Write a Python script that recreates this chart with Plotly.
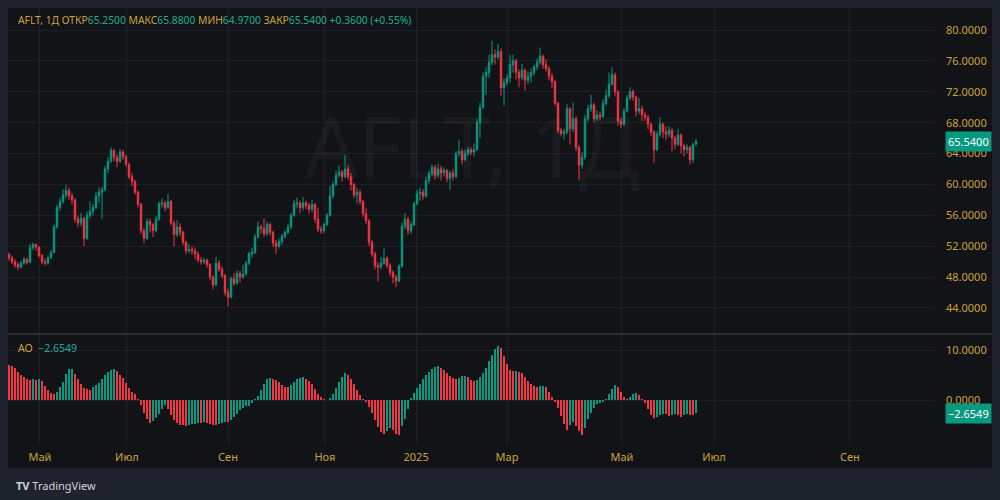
import plotly.graph_objects as go

# ---------------- data ----------------
OPEN = [
    50.9, 50.5, 50.0, 49.6, 49.3, 49.8, 50.3, 49.9, 51.8, 52.2,
    51.9, 50.8, 50.0, 49.8, 50.5, 51.2, 54.5, 57.0, 57.8, 58.6,
    59.2, 58.5, 58.0, 55.5, 55.0, 55.6, 53.0, 56.0, 56.5, 57.0,
    58.5, 59.0, 59.3, 62.0, 63.0, 64.4, 63.5, 63.0, 64.2, 63.6,
    62.6, 61.0, 60.4, 59.0, 57.4, 54.0, 53.0, 55.2, 54.8, 54.0,
    55.5, 57.5, 57.6, 57.0, 57.8, 55.0, 53.5, 54.5, 53.8, 52.5,
    51.4, 51.6, 51.4, 51.0, 50.2, 50.0, 50.2, 49.6, 48.0, 47.0,
    49.8, 49.0, 48.2, 46.0, 45.4, 47.8, 47.2, 48.5, 48.0, 48.4,
    49.8, 51.0, 51.2, 53.2, 54.5, 54.3, 53.6, 54.8, 53.8, 52.4,
    52.0, 52.6, 53.3, 53.8, 54.5, 56.0, 57.5, 57.6, 57.0, 57.6,
    57.3, 56.8, 57.4, 55.5, 54.2, 54.0, 54.8, 56.0, 58.5, 60.0,
    61.2, 61.6, 61.0, 62.0, 61.0, 60.0, 58.6, 59.0, 57.8, 56.2,
    55.3, 52.5, 51.0, 49.5, 49.3, 49.8, 50.4, 49.5, 48.6, 48.0,
    47.5, 49.4, 54.6, 55.5, 54.0, 54.8, 57.5, 58.8, 59.0, 58.5,
    60.5, 61.4, 62.2, 61.2, 62.0, 61.5, 61.8, 60.8, 61.5, 61.0,
    64.0, 64.3, 63.2, 64.0, 64.5, 64.2, 64.5, 68.0, 70.0, 74.0,
    74.5, 75.8, 76.8, 76.5, 77.2, 72.5, 73.2, 73.8, 75.5, 76.0,
    74.5, 73.8, 74.8, 73.5, 74.0, 74.5, 75.2, 75.8, 76.6, 75.5,
    75.0, 74.0, 73.3, 70.5, 67.0, 66.6, 66.8, 69.8, 67.2, 68.5,
    64.8, 62.5, 63.5, 68.5, 69.8, 70.3, 68.5, 69.0, 68.8, 70.5,
    71.5, 73.0, 74.2, 72.0, 68.2, 67.8, 69.5, 71.2, 72.0, 71.3,
    69.5, 69.8, 69.0, 68.7, 67.8, 66.8, 64.5, 66.5, 67.8, 66.8,
    66.5, 67.0, 66.0, 65.2, 66.4, 65.0, 64.5, 64.8, 63.2, 65.25,
]
HIGH = [
    51.2, 50.8, 50.3, 49.9, 50.1, 50.6, 50.5, 52.3, 52.5, 52.4,
    52.0, 51.0, 50.4, 50.8, 51.5, 54.8, 57.4, 58.3, 59.4, 59.9,
    59.6, 58.9, 58.2, 56.0, 56.3, 55.8, 56.5, 57.8, 57.5, 59.0,
    59.6, 59.7, 62.4, 63.6, 64.8, 64.6, 63.9, 64.6, 64.5, 63.8,
    62.8, 61.5, 60.6, 59.2, 57.6, 54.3, 55.6, 55.6, 55.0, 55.9,
    57.8, 58.2, 57.9, 58.8, 58.0, 55.3, 55.4, 55.0, 54.0, 52.7,
    52.3, 52.0, 51.8, 51.3, 50.6, 50.5, 50.4, 49.8, 48.2, 50.6,
    50.2, 49.4, 48.4, 46.5, 48.1, 48.5, 48.9, 48.8, 49.6, 50.1,
    51.3, 51.8, 53.6, 55.2, 54.8, 55.6, 55.2, 55.0, 54.0, 52.8,
    53.0, 53.6, 54.1, 54.9, 56.3, 58.0, 58.3, 57.9, 58.4, 57.9,
    57.6, 58.0, 57.6, 57.0, 54.6, 55.1, 56.3, 59.8, 60.4, 61.8,
    62.4, 61.9, 63.8, 62.5, 61.5, 60.2, 59.6, 59.3, 58.0, 56.9,
    55.5, 52.8, 51.3, 49.9, 50.6, 51.7, 50.7, 49.8, 48.9, 48.3,
    49.7, 55.1, 56.3, 55.8, 55.2, 57.8, 59.3, 59.6, 59.4, 61.0,
    61.8, 62.6, 62.5, 62.7, 62.4, 62.2, 62.0, 61.8, 62.0, 64.3,
    65.8, 64.6, 64.5, 64.9, 64.8, 65.3, 68.5, 70.6, 74.5, 75.2,
    76.8, 78.6, 77.5, 78.2, 77.6, 73.8, 74.3, 76.8, 76.8, 76.3,
    74.9, 75.6, 75.0, 74.6, 75.0, 75.5, 76.3, 77.7, 76.8, 76.2,
    75.3, 74.4, 73.5, 70.7, 67.3, 67.2, 70.4, 70.0, 70.6, 68.8,
    65.1, 64.2, 69.0, 70.3, 71.6, 70.6, 69.6, 69.4, 71.0, 72.3,
    74.5, 75.2, 74.5, 72.2, 68.6, 69.9, 71.6, 72.6, 72.3, 71.5,
    71.2, 70.2, 69.4, 69.0, 68.0, 67.0, 66.9, 68.7, 68.0, 67.5,
    67.6, 67.3, 66.3, 67.2, 66.6, 65.3, 65.2, 65.0, 65.4, 65.88,
]
LOW = [
    50.1, 49.7, 49.2, 48.9, 49.1, 49.6, 49.6, 49.8, 51.5, 51.4,
    50.5, 49.7, 49.5, 49.6, 50.3, 51.1, 54.3, 56.6, 57.5, 58.2,
    58.0, 57.4, 55.1, 54.5, 54.6, 52.0, 52.8, 55.6, 56.0, 56.8,
    57.6, 55.5, 59.1, 61.5, 62.8, 63.0, 62.2, 62.8, 63.2, 62.3,
    60.7, 59.8, 58.7, 57.0, 53.6, 52.4, 52.8, 53.8, 53.2, 53.8,
    55.3, 57.0, 56.5, 56.8, 54.7, 52.0, 53.2, 53.3, 52.1, 51.0,
    51.1, 50.9, 50.3, 49.9, 49.6, 49.7, 49.2, 47.6, 46.4, 46.8,
    48.7, 47.9, 45.6, 44.2, 45.2, 46.9, 47.0, 47.3, 47.8, 48.2,
    49.5, 50.5, 51.0, 53.0, 53.6, 53.2, 53.3, 53.4, 51.9, 51.0,
    51.7, 52.2, 53.0, 53.6, 54.2, 55.8, 56.9, 56.3, 56.6, 56.8,
    56.2, 56.4, 55.0, 53.8, 53.6, 53.7, 54.6, 55.8, 58.2, 59.8,
    60.9, 60.4, 60.8, 60.6, 59.2, 58.2, 57.5, 57.4, 55.8, 54.9,
    52.0, 50.6, 49.0, 47.4, 49.0, 49.6, 49.2, 48.2, 47.2, 46.7,
    47.3, 49.2, 54.2, 53.5, 53.6, 54.6, 57.3, 57.9, 58.0, 58.3,
    60.1, 61.1, 60.6, 60.9, 60.5, 61.0, 60.3, 59.3, 60.5, 60.8,
    63.6, 62.6, 63.0, 63.7, 63.8, 63.6, 64.3, 66.0, 69.8, 71.6,
    73.8, 75.4, 75.5, 76.2, 71.5, 70.2, 72.8, 73.2, 74.5, 73.6,
    72.6, 73.5, 72.2, 73.0, 73.2, 74.1, 74.8, 75.5, 75.0, 74.6,
    73.5, 72.5, 70.2, 66.6, 66.2, 65.8, 66.5, 65.2, 66.8, 64.3,
    60.6, 62.0, 63.2, 68.1, 69.4, 68.0, 68.2, 68.3, 68.6, 70.2,
    71.2, 72.8, 71.4, 67.6, 67.3, 67.6, 69.3, 70.9, 70.8, 68.8,
    69.1, 68.2, 68.2, 67.2, 66.3, 62.8, 64.3, 66.2, 66.0, 65.8,
    66.1, 64.3, 64.6, 65.0, 64.0, 63.6, 64.0, 62.6, 62.8, 64.97,
]
CLOSE = [
    50.5, 50.0, 49.6, 49.3, 49.8, 50.3, 49.9, 51.8, 52.2, 51.9,
    50.8, 50.0, 49.8, 50.5, 51.2, 54.5, 57.0, 57.8, 58.6, 59.2,
    58.5, 58.0, 55.5, 55.0, 55.6, 53.0, 56.0, 56.5, 57.0, 58.5,
    59.0, 59.3, 62.0, 63.0, 64.4, 63.5, 63.0, 64.2, 63.6, 62.6,
    61.0, 60.4, 59.0, 57.4, 54.0, 53.0, 55.2, 54.8, 54.0, 55.5,
    57.5, 57.6, 57.0, 57.8, 55.0, 53.5, 54.5, 53.8, 52.5, 51.4,
    51.6, 51.4, 51.0, 50.2, 50.0, 50.2, 49.6, 48.0, 47.0, 49.8,
    49.0, 48.2, 46.0, 45.4, 47.8, 47.2, 48.5, 48.0, 48.4, 49.8,
    51.0, 51.2, 53.2, 54.5, 54.3, 53.6, 54.8, 53.8, 52.4, 52.0,
    52.6, 53.3, 53.8, 54.5, 56.0, 57.5, 57.6, 57.0, 57.6, 57.3,
    56.8, 57.4, 55.5, 54.2, 54.0, 54.8, 56.0, 58.5, 60.0, 61.2,
    61.6, 61.0, 62.0, 61.0, 60.0, 58.6, 59.0, 57.8, 56.2, 55.3,
    52.5, 51.0, 49.5, 49.3, 49.8, 50.4, 49.5, 48.6, 48.0, 47.5,
    49.4, 54.6, 55.5, 54.0, 54.8, 57.5, 58.8, 59.0, 58.5, 60.5,
    61.4, 62.2, 61.2, 62.0, 61.5, 61.8, 60.8, 61.5, 61.0, 64.0,
    64.3, 63.2, 64.0, 64.5, 64.2, 64.5, 68.0, 70.0, 74.0, 74.5,
    75.8, 76.8, 76.5, 77.2, 72.5, 73.2, 73.8, 75.5, 76.0, 74.5,
    73.8, 74.8, 73.5, 74.0, 74.5, 75.2, 75.8, 76.6, 75.5, 75.0,
    74.0, 73.3, 70.5, 67.0, 66.6, 66.8, 69.8, 67.2, 68.5, 64.8,
    62.5, 63.5, 68.5, 69.8, 70.3, 68.5, 69.0, 68.8, 70.5, 71.5,
    73.0, 74.2, 72.0, 68.2, 67.8, 69.5, 71.2, 72.0, 71.3, 69.5,
    69.8, 69.0, 68.7, 67.8, 66.8, 64.5, 66.5, 67.8, 66.8, 66.5,
    67.0, 66.0, 65.2, 66.4, 65.0, 64.5, 64.8, 63.2, 65.18, 65.54,
]
AO = [
    7.0, 6.9, 6.5, 5.6, 5.0, 4.6, 4.3, 4.1, 4.2, 4.0,
    4.2, 3.8, 2.8, 2.0, 1.4, 1.2, 1.6, 2.6, 3.7, 5.2,
    6.2, 6.3, 5.3, 4.2, 3.3, 2.5, 2.3, 2.0, 2.6, 3.1,
    3.5, 4.3, 5.0, 5.7, 6.1, 6.2, 5.8, 5.1, 4.4, 3.5,
    2.5, 1.7, 1.2, 0.3, -1.0, -2.5, -3.8, -4.5, -4.2, -3.5,
    -2.7, -1.8, -1.0, -1.7, -3.0, -4.0, -4.6, -4.9, -5.0, -5.1,
    -5.0, -4.8, -4.7, -4.5, -4.6, -4.4, -4.6, -4.8, -4.9, -5.0,
    -4.8, -4.6, -4.3, -4.4, -4.0, -3.4, -2.8, -2.0, -1.5, -1.2,
    -1.1, -0.6, 0.2, 0.8, 2.0, 3.2, 4.2, 4.4, 4.2, 4.0,
    3.6, 3.0, 2.7, 2.6, 3.0, 3.6, 4.2, 4.5, 4.6, 4.3,
    3.8, 3.2, 2.3, 1.2, 0.6, 0.2, 0.1, 0.4, 1.3, 2.5,
    3.6, 4.6, 5.4, 5.1, 4.3, 3.2, 2.0, 1.0, 0.3, -0.3,
    -1.3, -2.6, -4.0, -5.3, -6.3, -6.7, -6.2, -5.6, -6.0, -6.7,
    -6.9, -5.2, -3.8, -1.8, 0.5, 1.5, 2.4, 3.3, 4.3, 5.0,
    5.6, 6.2, 6.6, 6.9, 6.5, 6.0, 5.4, 4.8, 4.4, 4.2,
    4.5, 4.8, 4.9, 4.6, 4.1, 3.9, 4.0, 4.6, 5.4, 6.5,
    7.8, 9.0, 10.2, 10.9, 10.4, 8.8, 7.2, 6.0, 5.8, 5.9,
    5.6, 5.4, 4.7, 3.9, 3.2, 2.8, 2.6, 2.9, 2.9, 2.6,
    1.6, 0.6, -0.3, -1.5, -3.2, -4.8, -6.0, -5.0, -4.3, -5.2,
    -6.2, -6.9, -5.5, -3.8, -2.5, -1.5, -0.8, -0.6, -0.4, 0.3,
    1.2, 2.2, 3.0, 2.6, 1.6, 0.6, 0.2, 0.6, 1.2, 1.5,
    1.0, 0.3, -0.6, -1.8, -3.0, -3.6, -3.4, -3.0, -2.7, -2.8,
    -3.2, -3.0, -2.8, -3.0, -3.3, -3.0, -2.8, -2.9, -3.0, -2.6549,
]
MONTH_LABELS = ["Май", "Июл", "Сен", "Ноя", "2025", "Мар", "Май", "Июл", "Сен"]
MONTH_START_BAR = [10.3, 39.3, 73.0, 105.3, 135.7, 166.0, 204.3, 235.0, 280.3]
PRICE_TICKS = [44, 48, 52, 56, 60, 64, 68, 72, 76, 80]
AO_TICKS = [0, 10]
SYMBOL = "AFLT, 1Д"
LAST_CHANGE = 0.36
LAST_CHANGE_PCT = 0.55

# ---------------- styling ----------------
UP = "#089981"
DOWN = "#f23645"
GOLD = "#c9a23f"
TEAL = "#22ab94"
BG = "#121316"
FRAME = "#1e222d"
GRID = "#1d2026"
FONT = "Noto Sans"

BARS = list(range(len(CLOSE)))
ao_colors = []
for i, v in enumerate(AO):
    prev = AO[i - 1] if i > 0 else AO[0] + 0.1
    ao_colors.append(UP if v >= prev else DOWN)

fig = go.Figure()

# watermark (drawn first so that it stays under the candles)
fig.add_trace(go.Scatter(
    x=[154.3], y=[63.6], mode="text", text=[SYMBOL],
    textfont=dict(family=FONT, size=84, color="rgba(255,255,255,0.035)"),
    textposition="middle center", hoverinfo="skip", showlegend=False,
    xaxis="x", yaxis="y",
))

fig.add_trace(go.Candlestick(
    x=BARS, open=OPEN, high=HIGH, low=LOW, close=CLOSE,
    increasing=dict(line=dict(color=UP, width=1), fillcolor=UP),
    decreasing=dict(line=dict(color=DOWN, width=1), fillcolor=DOWN),
    whiskerwidth=0, showlegend=False, hoverinfo="skip",
    xaxis="x", yaxis="y",
))

fig.add_trace(go.Bar(
    x=BARS, y=AO, marker=dict(color=ao_colors, line=dict(width=0)),
    width=0.5, showlegend=False, hoverinfo="skip",
    xaxis="x2", yaxis="y2",
))

XR = [-1 / 3, 309 - 1 / 3]
axis_common = dict(showline=False, zeroline=False, gridcolor=GRID, gridwidth=1)

fig.update_layout(
    width=1000, height=500,
    margin=dict(l=8, r=65, t=8, b=57),
    paper_bgcolor=FRAME, plot_bgcolor=BG,
    hovermode=False, bargap=0, dragmode=False,
    font=dict(family=FONT, size=11, color=GOLD),
    xaxis=dict(domain=[0, 1], anchor="y", range=XR, tickvals=MONTH_START_BAR,
               showticklabels=False, ticks="", rangeslider=dict(visible=False),
               **axis_common),
    xaxis2=dict(domain=[0, 1], anchor="y2", range=XR, matches="x",
                tickvals=MONTH_START_BAR, ticktext=MONTH_LABELS,
                tickfont=dict(family=FONT, size=11, color=GOLD),
                ticks="", ticklabelstandoff=6, **axis_common),
    yaxis=dict(domain=[0.2529, 1], anchor="x", side="right", range=[40.76, 82.85],
               tickvals=PRICE_TICKS, tickformat=".4f", ticks="",
               ticklabelstandoff=10,
               tickfont=dict(family=FONT, size=11, color=GOLD), **axis_common),
    yaxis2=dict(domain=[0, 0.248], anchor="x2", side="right", range=[-8.6, 13],
                tickvals=AO_TICKS, tickformat=".4f", ticks="",
                ticklabelstandoff=10,
                tickfont=dict(family=FONT, size=11, color=GOLD), **axis_common),
)

# inner chart panel and pane separator
fig.add_shape(type="rect", xref="paper", yref="paper", x0=0, x1=1.0615,
              y0=-0.0575, y1=1.0, fillcolor=BG, line=dict(width=0), layer="below")
fig.add_shape(type="line", xref="paper", yref="paper", x0=0, x1=1.0615,
              y0=0.2506, y1=0.2506, line=dict(color="#2a2e39", width=2))

def fmt(v):
    return f"{v:.4f}"

header = (
    f"<span style='color:{GOLD}'>{SYMBOL} ОТКР</span><span style='color:{TEAL}'>{fmt(OPEN[-1])}</span>"
    f"<span style='color:{GOLD}'> МАКС</span><span style='color:{TEAL}'>{fmt(HIGH[-1])}</span>"
    f"<span style='color:{GOLD}'> МИН</span><span style='color:{TEAL}'>{fmt(LOW[-1])}</span>"
    f"<span style='color:{GOLD}'> ЗАКР</span><span style='color:{TEAL}'>{fmt(CLOSE[-1])}</span>"
    f"<span style='color:{TEAL}'> +{fmt(LAST_CHANGE)} (+{LAST_CHANGE_PCT:.2f}%)</span>"
)
fig.add_annotation(xref="paper", yref="paper", x=0.0086, y=0.9724, text=header,
                   showarrow=False, xanchor="left", yanchor="middle",
                   font=dict(family=FONT, size=10.3))

ao_last = "−" + fmt(abs(AO[-1])) if AO[-1] < 0 else fmt(AO[-1])
fig.add_annotation(xref="paper", yref="paper", x=0.0086, y=0.2184,
                   text=f"<span style='color:{GOLD}'>AO</span>  <span style='color:{TEAL}'>{ao_last}</span>",
                   showarrow=False, xanchor="left", yanchor="middle",
                   font=dict(family=FONT, size=10.5))

# last-value labels on the price scales
fig.add_annotation(xref="paper", yref="y", x=1.0356, y=CLOSE[-1], text=fmt(CLOSE[-1]),
                   showarrow=False, xanchor="center", yanchor="middle",
                   bgcolor=UP, borderpad=2, font=dict(family=FONT, size=11, color="#ffffff"))
fig.add_annotation(xref="paper", yref="y2", x=1.0356, y=AO[-1], text=ao_last,
                   showarrow=False, xanchor="center", yanchor="middle",
                   bgcolor=UP, borderpad=2, font=dict(family=FONT, size=11, color="#ffffff"))

# brand footer
fig.add_annotation(xref="paper", yref="paper", x=0.0065, y=-0.0966,
                   text="<b>TV</b> TradingView", showarrow=False,
                   xanchor="left", yanchor="middle",
                   font=dict(family=FONT, size=11, color="#d1d4dc"))

PAGE_CSS_JS = (
    "document.documentElement.style.margin='0';"
    "document.documentElement.style.background='" + FRAME + "';"
    "document.body.style.margin='0';"
    "document.body.style.padding='0';"
    "document.body.style.overflow='hidden';"
    "document.body.style.background='" + FRAME + "';"
)
fig.write_html("out.html", post_script=PAGE_CSS_JS,
               config={"displayModeBar": False, "staticPlot": True})
